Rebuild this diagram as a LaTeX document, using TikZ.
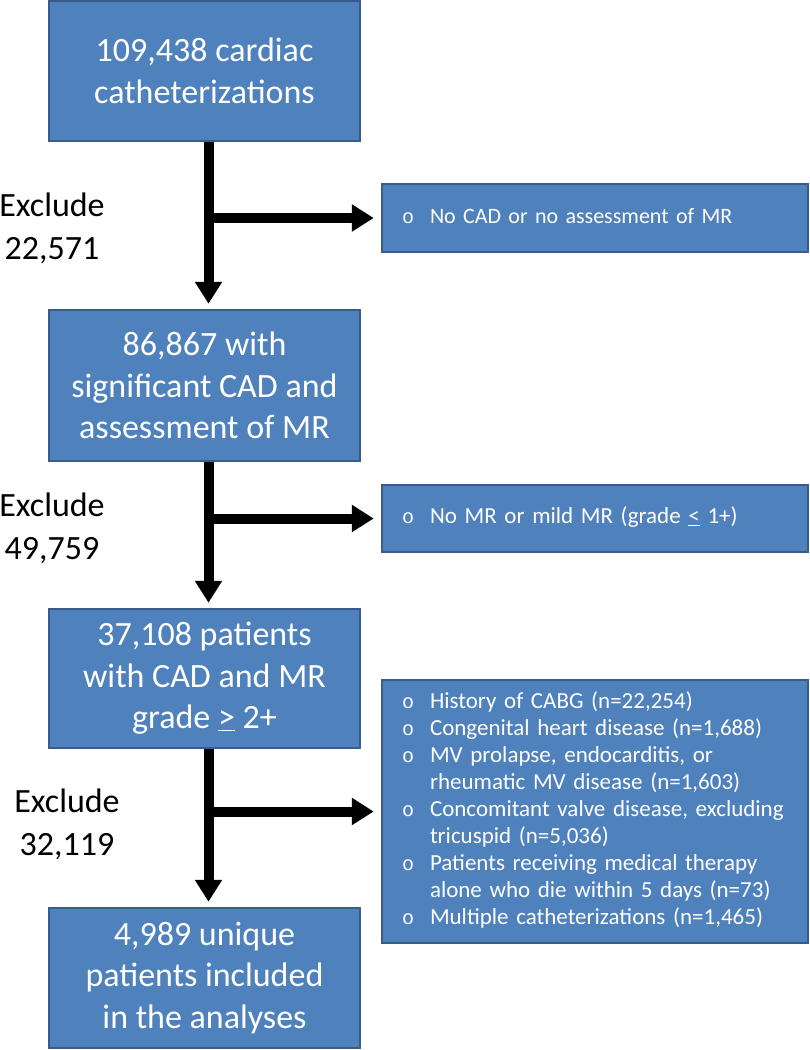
\documentclass[tikz,border=0pt]{standalone}
\usepackage{fontspec}
\setmainfont{Carlito}
\newfontfamily\bulfont{Liberation Mono}
\usetikzlibrary{arrows.meta}
\definecolor{boxfill}{HTML}{4F81BD}
\definecolor{boxdraw}{HTML}{385D8A}
\newcommand\bul{{\bulfont\fontsize{20}{27}\selectfont o}}
\begin{document}
\begin{tikzpicture}[x=1pt,y=-1pt,
  mainbox/.style={draw=boxdraw, fill=boxfill, line width=2.5pt, minimum width=311pt,
    text=white, align=center, font=\fontsize{34}{41.5}\selectfont, inner sep=0pt},
  sidebox/.style={draw=boxdraw, fill=boxfill, line width=2.5pt, minimum width=426pt,
    text=white, align=left, font=\fontsize{23}{27}\selectfont, text width=386pt,
    inner xsep=20pt, inner ysep=0pt},
  lbl/.style={align=center, font=\fontsize{34}{43}\selectfont, inner sep=0pt},
  arr/.style={line width=10pt, -{Triangle[length=22pt,width=26pt]}}]
\useasboundingbox (0,0) rectangle (810,1050);

\node[mainbox, minimum height=140pt] (b1) at (204.5,71) {109,438 cardiac\\catheterizations};
\node[mainbox, minimum height=151pt] (b2) at (204.5,385.5) {86,867 with\\significant CAD and\\assessment of MR};
\node[mainbox, minimum height=139pt] (b3) at (204.5,678.5) {37,108 patients\\with CAD and MR\\grade \underline{>} 2+};
\node[mainbox, minimum height=140pt] (b4) at (204.5,978) {4,989 unique\\patients included\\in the analyses};

\node[sidebox, minimum height=68pt, font=\fontsize{22}{27}\selectfont] (s1) at (595,218)
  {\begin{tabular}{@{}p{28pt}@{}l@{}}\bul & No CAD or no assessment of MR\end{tabular}};
\node[sidebox, minimum height=67pt] (s2) at (595,518.5)
  {\begin{tabular}{@{}p{28pt}@{}l@{}}\bul & No MR or mild MR (grade \underline{<} 1+)\end{tabular}};
\node[sidebox, minimum height=263pt] (s3) at (595,811.5)
  {\begin{tabular}{@{}p{28pt}@{}l@{}}
   \bul & History of CABG (n=22,254)\\
   \bul & Congenital heart disease (n=1,688)\\
   \bul & MV prolapse, endocarditis, or\\
        & rheumatic MV disease (n=1,603)\\
   \bul & Concomitant valve disease, excluding\\
        & tricuspid (n=5,036)\\
   \bul & Patients receiving medical therapy\\
        & alone who die within 5 days (n=73)\\
   \bul & Multiple catheterizations (n=1,465)
   \end{tabular}};

\node[lbl] (l1) at (52,228.5) {Exclude\\22,571};
\node[lbl] (l2) at (52,528.5) {Exclude\\49,759};
\node[lbl] (l3) at (67,824) {Exclude\\32,119};

\draw[arr, shorten >=5pt] ([xshift=4pt]b1.south) -- ([xshift=4pt]b2.north);
\draw[arr, shorten >=5pt] ([xshift=4pt]b2.south) -- ([xshift=4pt]b3.north);
\draw[arr, shorten >=5pt] ([xshift=4pt]b3.south) -- ([xshift=4pt]b4.north);

\draw[arr, shorten >=7pt] ([xshift=4pt]b1.south |- s1.west) -- (s1.west);
\draw[arr, shorten >=7pt] ([xshift=4pt]b2.south |- s2.west) -- (s2.west);
\draw[arr, shorten >=7pt] ([xshift=4pt]b3.south |- s3.west) -- (s3.west);
\end{tikzpicture}
\end{document}
